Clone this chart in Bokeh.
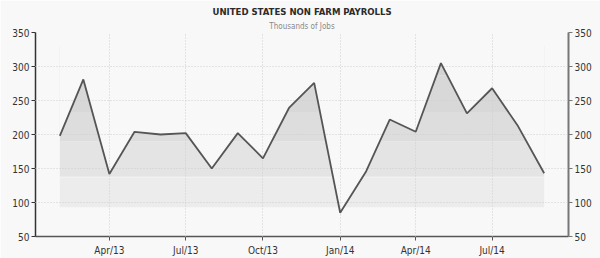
import pandas as pd
from bokeh.plotting import figure
from bokeh.models import (Range1d, LinearAxis, DatetimeTickFormatter, MonthsTicker,
                          FixedTicker, Title, ColumnDataSource)
from bokeh.embed import file_html
from bokeh.resources import INLINE

# ---- data ----
months = ["2013-02", "2013-03", "2013-04", "2013-05", "2013-06", "2013-07", "2013-08",
          "2013-09", "2013-10", "2013-11", "2013-12", "2014-01", "2014-02", "2014-03",
          "2014-04", "2014-05", "2014-06", "2014-07", "2014-08", "2014-09"]
payrolls = [198, 281, 142, 204, 200, 202, 150, 202, 165, 239, 276, 85, 146, 222,
            204, 305, 231, 268, 212, 143]
y_ticks = [50, 100, 150, 200, 250, 300, 350]
title_text = "UNITED STATES NON FARM PAYROLLS"
subtitle_text = "Thousands of Jobs"

dates = pd.to_datetime(months)
src = ColumnDataSource(dict(x=dates, y=payrolls, top=[360] * len(payrolls)))

BG = "#f8f8f8"
FONT = "DejaVu Sans Condensed"

p = figure(width=600, height=258, x_axis_type="datetime", output_backend="svg",
           toolbar_location=None, y_axis_location="left",
           x_range=Range1d(pd.Timestamp("2013-01-03"), pd.Timestamp("2014-09-30")),
           y_range=Range1d(50, 350),
           min_border_left=35, min_border_right=32, min_border_top=32, min_border_bottom=22)
p.background_fill_color = BG
p.border_fill_color = BG
p.outline_line_color = None

# titles
p.add_layout(Title(text=subtitle_text, align="center", text_font=FONT, text_font_size="8px",
                   text_font_style="normal", text_color="#8a8a8a", standoff=4, offset=0), "above")
p.add_layout(Title(text=title_text, align="center", text_font=FONT, text_font_size="9.5px",
                   text_font_style="bold", text_color="#2b2b2b", standoff=2), "above")

# banded fill (gradient imitation) then masked above the line
x0, x1 = dates[0], dates[-1]
bands = [(93, 138, "#ececec"), (138, 190, "#e4e4e4"), (190, 233, "#dddddd"),
         (233, 287, "#d8d8d8"), (287, 330, "#d3d3d3")]
for lo, hi, col in bands:
    p.quad(left=[x0], right=[x1], bottom=[lo], top=[hi], fill_color=col, line_color=None)
p.line(x=[x0, x1], y=[137, 137], line_color="#f2f2f2", line_width=1)
p.varea(x="x", y1="y", y2="top", source=src, fill_color=BG)

# line
p.line(x="x", y="y", source=src, line_color="#555555", line_width=1.8, level="annotation")

# grids
for g in (p.xgrid, p.ygrid):
    g.grid_line_color = "#cfcfcf"
    g.grid_line_dash = "1 2"
    g.grid_line_width = 1
    g.level = "guide"
p.ygrid.ticker = FixedTicker(ticks=y_ticks)

# axes
xt = MonthsTicker(months=[0, 3, 6, 9])
p.xaxis.ticker = xt
p.xgrid.ticker = xt
p.xaxis.formatter = DatetimeTickFormatter(months="%b/%y", days="%b/%y", years="%b/%y")
p.xaxis.axis_line_color = "#555555"
p.xaxis.axis_line_width = 1.5

p.yaxis.ticker = FixedTicker(ticks=y_ticks)
p.yaxis.axis_line_color = "#333333"
p.yaxis.axis_line_width = 1.5

right = LinearAxis(ticker=FixedTicker(ticks=y_ticks), axis_line_color="#777777", axis_line_width=2)
p.add_layout(right, "right")

for ax in (p.xaxis[0], p.yaxis[0], right):
    ax.major_label_text_font = FONT
    ax.major_label_text_font_size = "10px"
    ax.major_label_text_color = "#333333"
    ax.major_tick_in = 0
    ax.major_tick_out = 4
    ax.major_tick_line_color = ax.axis_line_color
    ax.minor_tick_line_color = None
    ax.major_label_standoff = 2

p.xaxis.major_label_standoff = 4

open("out.html", "w").write(file_html(p, INLINE))
